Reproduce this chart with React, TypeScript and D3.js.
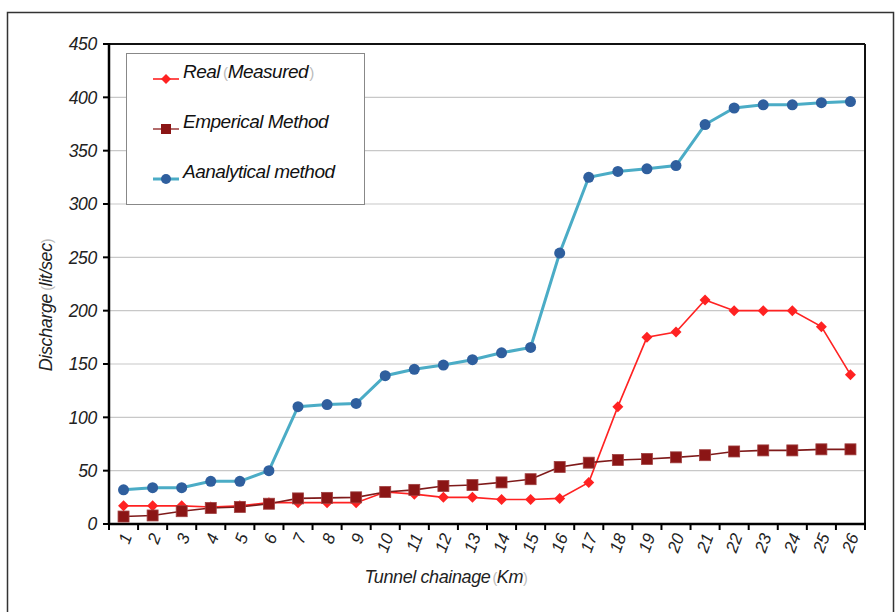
import React from "react";
import * as d3 from "d3";

const categories = ["1","2","3","4","5","6","7","8","9","10","11","12","13","14","15","16","17","18","19","20","21","22","23","24","25","26"];
const realMeasured = [17,17,17,16,17,20,20,20,20,30,28,25,25,23,23,24,39,110,175,180,210,200,200,200,185,140];
const empericalMethod = [7,8,12,15,16,19,24,24.5,25,30,32,35.6,36.5,39,42,53.5,57.5,60,61,62.5,64.5,68,69,69,70,70];
const analyticalMethod = [32,34,34,40,40,50,110,112,113,139,145,149,154,160.5,165.5,254,325,330.5,333,336,374.5,390,393,393,395,396];
const yTicks = [0,50,100,150,200,250,300,350,400,450];

const W = 895, H = 612;
const L = 109, R = 865, T = 44, B = 524;
const FONT = "'Liberation Sans', Arial, sans-serif";

export default function App() {
  const x = d3.scaleBand<string>().domain(categories).range([L, R]).paddingInner(0).paddingOuter(0);
  const y = d3.scaleLinear().domain([0, 450]).range([B, T]);
  const cx = (c: string) => (x(c) as number) + x.bandwidth() / 2;
  const line = d3.line<number>().x((_, i) => cx(categories[i])).y((d) => y(d));

  const blueLine = "#4bacc6";
  const blueMark = "#2f5f9e";
  const red = "#ff2222";
  const dark = "#7f1a1a";
  const darkMark = "#8b1515";

  const diamond = (px: number, py: number, s = 5.5) =>
    `M${px},${py - s}L${px + s},${py}L${px},${py + s}L${px - s},${py}Z`;

  const paren = (ch: string, dx = 0) => (
    <tspan fill="#bbb" fontStyle="normal" fontSize="0.8em" dx={dx}>{ch}</tspan>
  );

  return (
    <svg width={W} height={H} style={{ position: "absolute", left: 0, top: 0, background: "#fff" }} fontFamily={FONT}>
      <rect x={0} y={0} width={W} height={H} fill="#fff" />
      {/* outer frame */}
      <path d={`M7.5,${H + 2}V12.5H893.5V${H + 2}`} fill="none" stroke="#333" strokeWidth={1.5} />

      {/* gridlines */}
      {yTicks.filter((t) => t > 0 && t < 450).map((t) => (
        <line key={t} x1={L} x2={R} y1={y(t)} y2={y(t)} stroke="#c8c8c8" strokeWidth={1.2} />
      ))}

      {/* plot frame */}
      <line x1={L} x2={R} y1={T} y2={T} stroke="#111" strokeWidth={2} />
      <line x1={R} x2={R} y1={T} y2={B} stroke="#111" strokeWidth={2} />
      <line x1={L} x2={L} y1={T - 1} y2={B + 1} stroke="#000" strokeWidth={2.5} />
      <line x1={L - 1} x2={R + 1} y1={B} y2={B} stroke="#000" strokeWidth={2.5} />

      {/* y ticks */}
      {yTicks.map((t) => (
        <g key={t}>
          <line x1={L - 6} x2={L} y1={y(t)} y2={y(t)} stroke="#000" strokeWidth={2} />
          <text x={L - 12} y={y(t)} dy="0.36em" textAnchor="end" fontSize={17.5} fontStyle="italic" fill="#222" letterSpacing={-0.3}>{t}</text>
        </g>
      ))}

      {/* x ticks */}
      {categories.map((c) => (
        <line key={"t" + c} x1={x(c) as number} x2={x(c) as number} y1={B} y2={B + 6} stroke="#000" strokeWidth={2} />
      ))}
      <line x1={R} x2={R} y1={B} y2={B + 6} stroke="#000" strokeWidth={2} />
      {categories.map((c) => (
        <text key={"l" + c} transform={`translate(${cx(c) + 3},${B + 10}) rotate(-70)`} textAnchor="end" dy="0.35em" fontSize={17} fontStyle="italic" fill="#222">{c}</text>
      ))}

      {/* axis titles */}
      <text x={446} y={583} textAnchor="middle" fontSize={18} fontStyle="italic" fill="#222" letterSpacing={-0.4}>
        Tunnel chainage{paren("(", 2)}Km{paren(")")}
      </text>
      <text transform={`translate(52,305) rotate(-90)`} textAnchor="middle" fontSize={18} fontStyle="italic" fill="#222" letterSpacing={-0.4}>
        Discharge{paren("(", 3)}lit/sec{paren(")")}
      </text>

      {/* Real */}
      <path d={line(realMeasured) as string} fill="none" stroke={red} strokeWidth={1.6} />
      {realMeasured.map((v, i) => (
        <path key={"r" + i} d={diamond(cx(categories[i]), y(v))} fill={red} />
      ))}

      {/* Emperical */}
      <path d={line(empericalMethod) as string} fill="none" stroke={dark} strokeWidth={1.6} />
      {empericalMethod.map((v, i) => (
        <rect key={"e" + i} x={cx(categories[i]) - 5.5} y={y(v) - 5.5} width={11} height={11} fill={darkMark} stroke="#a04040" strokeWidth={0.8} />
      ))}

      {/* Analytical */}
      <path d={line(analyticalMethod) as string} fill="none" stroke={blueLine} strokeWidth={3} />
      {analyticalMethod.map((v, i) => (
        <circle key={"a" + i} cx={cx(categories[i])} cy={y(v)} r={5.5} fill={blueMark} />
      ))}

      {/* legend */}
      <rect x={126.5} y={53.5} width={238} height={151} fill="#fff" stroke="#888" strokeWidth={1} />
      <g>
        <line x1={153} x2={179} y1={79} y2={79} stroke={red} strokeWidth={1.6} />
        <path d={diamond(166, 79, 5)} fill={red} />
        <text x={183} y={78} fontSize={19} fontStyle="italic" fill="#111" letterSpacing={-0.5}>
          Real{paren("(", 3)}Measured{paren(")", 1)}
        </text>
        <line x1={153} x2={179} y1={129} y2={129} stroke="#a04848" strokeWidth={1.6} />
        <rect x={161} y={124} width={10} height={10} fill={darkMark} />
        <text x={183} y={128} fontSize={19} fontStyle="italic" fill="#111" letterSpacing={-0.5}>Emperical Method</text>
        <line x1={153} x2={179} y1={179} y2={179} stroke={blueLine} strokeWidth={3} />
        <circle cx={166} cy={179} r={5} fill={blueMark} />
        <text x={183} y={178} fontSize={19} fontStyle="italic" fill="#111" letterSpacing={-0.5}>Aanalytical method</text>
      </g>
    </svg>
  );
}
